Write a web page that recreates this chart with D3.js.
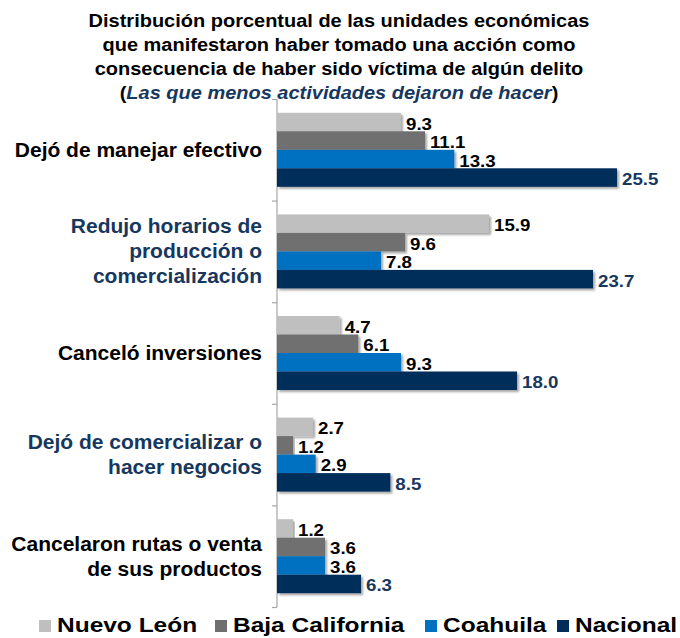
<!DOCTYPE html>
<html><head><meta charset="utf-8">
<script src="https://cdn.jsdelivr.net/npm/d3@7"></script>
<style>body{margin:0;background:#fff;} svg{display:block;font-family:Arial,"Liberation Sans",sans-serif;}</style>
</head><body>
<svg id="c" width="680" height="638"></svg>
<script>
const titleLines = ["Distribución porcentual de las unidades económicas","que manifestaron haber tomado una acción como","consecuencia de haber sido víctima de algún delito"];
const subtitle = "Las que menos actividades dejaron de hacer";
const categories = ["Dejó de manejar efectivo","Redujo horarios de producción o comercialización","Canceló inversiones","Dejó de comercializar o hacer negocios","Cancelaron rutas o venta de sus productos"];
const categoryLines = [["Dejó de manejar efectivo"],["Redujo horarios de","producción o","comercialización"],["Canceló inversiones"],["Dejó de comercializar o","hacer negocios"],["Cancelaron rutas o venta","de sus productos"]];
const categoryColors = ["#000000","#17375E","#000000","#17375E","#000000"];
const seriesNames = ["Nuevo León","Baja California","Coahuila","Nacional"];
const seriesColors = ["#BFBFBF","#6F6F6F","#0070C0","#002D5A"];
const labelColors = ["#000000","#000000","#000000","#17375E"];
const nuevoLeon = [9.3,15.9,4.7,2.7,1.2];
const bajaCalifornia = [11.1,9.6,6.1,1.2,3.6];
const coahuila = [13.3,7.8,9.3,2.9,3.6];
const nacional = [25.5,23.7,18.0,8.5,6.3];
const seriesValues = [nuevoLeon,bajaCalifornia,coahuila,nacional];

const svg = d3.select("#c");
const defs = svg.append("defs");
const f = defs.append("filter").attr("id","sh").attr("x","-5%").attr("y","-20%").attr("width","115%").attr("height","160%");
f.append("feDropShadow").attr("dx",2).attr("dy",2).attr("stdDeviation",1.2).attr("flood-color","#000").attr("flood-opacity",0.35);

// text helper with vertical squash (reference text is horizontally stretched)
function txt(parent,x,y,sy,size){
  return parent.append("g").attr("transform",`translate(${x},${y}) scale(1,${sy})`)
    .append("text").attr("x",0).attr("y",0).attr("font-size",size).attr("font-weight","bold");
}

// title
titleLines.forEach((t,i)=>{
  txt(svg,339,27+i*24,0.94,20).attr("text-anchor","middle").attr("fill","#000").text(t);
});
const st = txt(svg,339,27+3*24,0.94,20).attr("text-anchor","middle");
st.append("tspan").attr("fill","#000").text("(");
st.append("tspan").attr("fill","#17375E").attr("font-style","italic").text(subtitle);
st.append("tspan").attr("fill","#000").text(")");

const x0 = 277;
const x = d3.scaleLinear().domain([0,25.5]).range([x0,617]);
const y = d3.scaleBand().domain(categories).range([99,607]).paddingInner(0.272).paddingOuter(0.136);
const ys = d3.scaleBand().domain(seriesNames).range([0,y.bandwidth()]);

// axis
const axis = d3.axisLeft(d3.scaleLinear().domain([0,5]).range([99,607])).ticks(5).tickSize(5).tickFormat("");
const ag = svg.append("g").attr("transform",`translate(${x0},0)`).call(axis);
ag.selectAll("path,line").attr("stroke","#A6A6A6").attr("stroke-width",1.2);
ag.select("path").attr("d","M0,99V607");

// bars
categories.forEach((c,ci)=>{
  const g = svg.append("g").attr("transform",`translate(0,${y(c)})`);
  seriesNames.forEach((s,si)=>{
    const v = seriesValues[si][ci];
    g.append("rect").attr("x",x(0)).attr("y",ys(s)).attr("width",x(v)-x(0)).attr("height",ys.bandwidth())
      .attr("fill",seriesColors[si]).attr("filter","url(#sh)");
    txt(g,x(v)+5,ys(s)+ys.bandwidth()/2+7.5,0.9,18.7).attr("fill",labelColors[si]).text(v.toFixed(1));
  });
  const lines = categoryLines[ci];
  const cy = y(c)+y.bandwidth()/2;
  const lh = 25;
  lines.forEach((l,li)=>{
    txt(svg,262,cy+(li-(lines.length-1)/2)*lh+7,0.92,21).attr("text-anchor","end")
      .attr("fill",categoryColors[ci]).text(l);
  });
});

// legend
const legX = [39,215,425,557];
seriesNames.forEach((s,i)=>{
  svg.append("rect").attr("x",legX[i]).attr("y",620).attr("width",12).attr("height",12).attr("fill",seriesColors[i]);
  txt(svg,legX[i]+18,632,0.8,24.5).attr("fill","#000").text(s);
});
</script>
</body></html>
